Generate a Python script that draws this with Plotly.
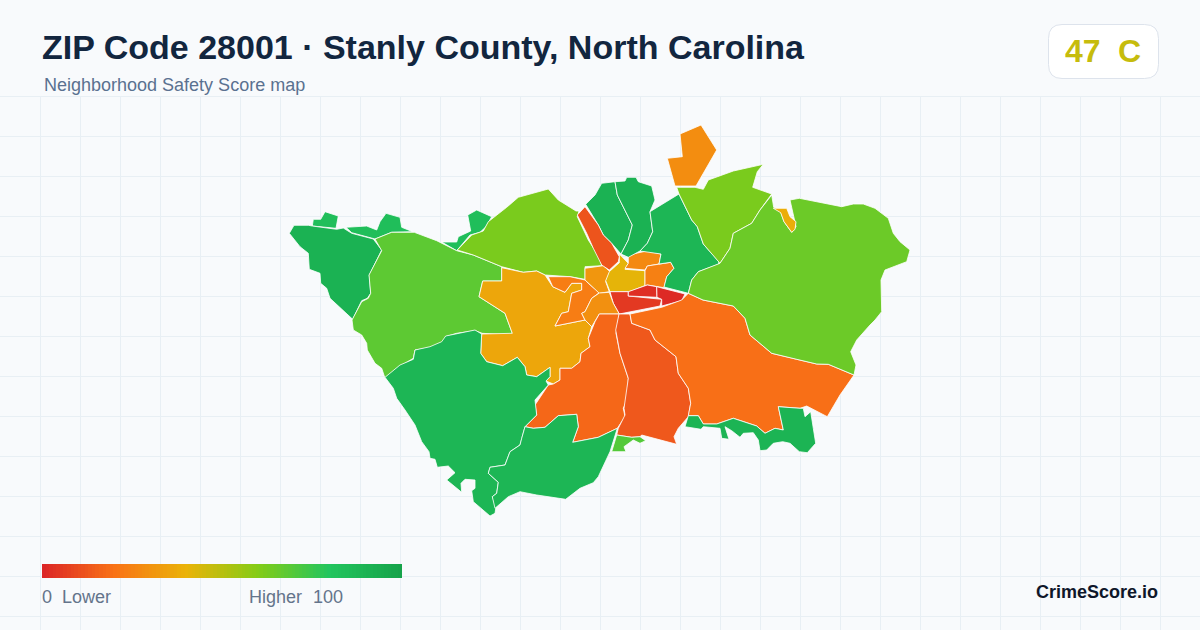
import plotly.graph_objects as go
from plotly.colors import sample_colorscale

TITLE = "ZIP Code 28001 · Stanly County, North Carolina"
SUBTITLE = "Neighborhood Safety Score map"
GRADE_SCORE = 47
GRADE_LETTER = "C"
BRAND = "CrimeScore.io"

score_stops = [0, 0.2, 0.4, 0.6, 0.8, 1]
score_colors = ["#dc2626", "#f97316", "#eab308", "#84cc16", "#22c55e", "#16a34a"]
colorscale = [[s, c] for s, c in zip(score_stops, score_colors)]

# Neighborhood boundaries (map-projected outlines) and scores
north_a = [(312.3,226),(313.3,219.3),(320.7,219.3),(325,211.7),(338.3,216),(336,228.3)]
north_b = [(346,227.3),(366.7,226),(376.7,230),(380,221.7),(386,213.3),(400,217.3),(401.7,227.3),(412.7,231.7),(391.7,232.3),(375,239),(351.7,232.7)]
north_c = [(441.7,242),(456.7,242),(458.3,236.7),(470.7,231),(467.7,215),(476.7,210),(491.7,216.7),(486,226.7),(480,232.3),(470,235),(456.7,250.7),(448.3,246)]
far_west = [(289.3,233.3),(294,225.3),(308.3,225.3),(312.3,226),(336.7,229.3),(343.3,228),(351.7,233.3),(373.3,239),(381.7,250),(369.3,275),(370.7,293.3),(367.3,298.3),(361.7,300.7),(357.3,310.7),(352.7,319.3),(330,298.3),(326.7,288.3),(320.7,283.3),(320,273.3),(309.3,269.3),(308.3,253.3),(300,246.7)]
west = [(375,239),(391.7,232.3),(414.3,232.3),(436.7,240.7),(456.7,250.7),(473.3,255),(501.7,266.7),(501.7,281),(482.7,281),(479,296.7),(505,313.3),(512.3,333.3),(511.7,335),(482.3,333.3),(475,330.7),(456.7,333.3),(445.7,336.7),(445,341.7),(436.7,346.7),(415,350),(413.3,358.3),(396.7,368.3),(385,378.3),(381.7,368.3),(375,363.3),(367.3,350),(366.7,343.3),(361.7,335),(353.3,330),(352,320),(361.7,301.7),(368.3,298.3),(370.7,293.3),(369,275),(381.7,250.7)]
northwest = [(457.3,250),(471.7,235),(483.3,231),(488.3,221.7),(506.7,207.3),(518.3,197.3),(548.3,189),(558.3,200),(576,211),(579,211),(577.3,216.7),(588.3,240),(600,258.3),(601.7,265.7),(585,266.7),(585,279.3),(570,276.7),(545,275),(536.7,271),(523.3,272.3),(501.7,266.7),(473.3,255)]
west_center = [(501.7,281),(501.7,267.7),(523.3,272.3),(536.7,271),(545,275),(552.7,286.7),(565,292.3),(571.7,283.3),(581.7,283.3),(581.7,290),(571.7,293.3),(568.3,311.7),(561.7,313.3),(555,326),(585,320),(591.7,326.7),(588.3,338.3),(590,346.7),(581,353.3),(580,361.7),(571.7,368.3),(560,368.3),(560,380),(553.3,384),(546,381),(550,376.7),(550,367.3),(536.7,376.7),(526.7,375),(525,366.7),(517.3,357.3),(502.7,365.7),(486.7,361.7),(480.7,353.3),(481.7,334),(512.3,333.3),(505,313.3),(479,296.7),(482.7,281)]
inner_west = [(548.3,276.7),(570,276.7),(585,280),(588.3,283.3),(599.3,292.7),(591.7,298.3),(585,311.7),(581.7,313.3),(585,320),(555,326),(561.7,313.3),(568.3,311.7),(571.7,293.3),(581.7,290),(581.7,283.3),(571.7,283.3),(565,292.3),(552.7,286.7)]
central_nw = [(585,268.3),(603.3,265.7),(610,271.7),(605.7,281.7),(609.3,291.7),(599.3,293.3),(585,280)]
central_n = [(619.3,254),(628.3,263.3),(625,269.3),(645,270.7),(645,285.7),(629.3,291.7),(610,291.7),(605.7,280.7),(609.3,271.7),(619.3,262.7)]
central_ne1 = [(628.3,255),(646.7,251),(661,254),(659,264),(647.3,266),(645,270),(625,268.3),(628.3,263.3)]
central_ne2 = [(647.3,266),(670.7,262.3),(674,268.3),(666.7,276.7),(664,287.7),(656.7,286.7),(647.3,285),(645,285.7),(645,270.7)]
core_left = [(610,291.7),(628.3,291.7),(628.3,296),(661.7,299.3),(660,306),(619.3,314),(613.3,303.3)]
core_top = [(628.3,291.7),(647.3,285),(656.7,286.7),(657,297.3),(628.3,296)]
core_right = [(656.7,286.7),(685,294),(681.7,300.7),(661.7,306),(661.7,299.3),(657,297.3)]
central_sw = [(599.3,293),(609.3,292.3),(613.3,303.3),(619.3,314),(599.3,314),(595,321.7),(591.7,326.7),(585,320),(581.7,313.3),(585,311.7),(591.7,298.3)]
south_a = [(599.3,314),(619.3,314),(616,333.3),(620,353.3),(628.3,378.3),(627.7,398.3),(623.3,408.3),(625,416.7),(617.3,428.3),(598.3,437.3),(572.7,442.3),(578.3,426.7),(576.7,414.3),(558.3,415.7),(545,427.3),(533.3,428.3),(525,426.7),(536.7,415),(535,405),(548.3,385),(553.3,384),(560,380),(560,368.3),(571.7,368.3),(580,361.7),(581,353.3),(590,346.7),(588.3,338.3),(595,321.7)]
south_b = [(619,314),(630,314),(631.7,323.3),(650,330),(655,340),(676,356.7),(678.3,373.3),(688.3,388.3),(690.7,403.3),(688.3,416.7),(678.3,428.3),(674,436.7),(676.7,444.3),(641.7,435),(640,436.7),(631.7,437.3),(616.7,435),(618.3,428.3),(625,415),(624,408.3),(628.3,378.3),(620,353.3),(615.7,330)]
southeast = [(630,314),(661.7,307.3),(681.7,300),(688.3,293.3),(703,300),(733.3,306),(745,318.3),(750,335),(771.7,353.3),(796.7,359.3),(816.7,364),(828.3,364.3),(854,375),(840,395),(827.3,416.7),(806.7,406),(800,408.3),(778.3,406.7),(783.3,430),(775,428.3),(765,433.3),(756.7,426),(733.3,418.3),(716.7,424),(703.3,424),(698.3,415.7),(688.3,415.7),(690.7,403.3),(688.3,388.3),(678.3,373.3),(676,356.7),(655,340),(650,330),(631.7,323.3)]
south_strip = [(688.3,415.7),(698.3,415.7),(703.3,424),(716.7,424),(733.3,418.3),(756.7,426),(765,433.3),(775,428.3),(783.3,430),(778.3,406.7),(800,408.3),(803.3,408.3),(805,416.7),(810.7,411.7),(813.3,428.3),(815.7,443.3),(807.3,452.7),(799.3,451.7),(790,443.3),(782.7,441.7),(773.3,443.3),(766.7,450),(760,450.7),(758.3,440),(753.3,432.7),(743.3,433.3),(740,437.3),(731.7,430.7),(725,426.7),(729,439.3),(721.7,438.3),(720,428.3),(703.3,426.7),(701,429.3),(685,426.7)]
south_sliver = [(616.7,435),(631.7,437.3),(640,436.7),(645.7,440.7),(640,443.3),(633.3,440),(624,446.7),(626,451.7),(611.7,451.7)]
southwest = [(385,377.3),(400,365),(413.3,359.3),(415,350),(430,346.7),(441.7,341.7),(445.7,336),(475,330),(481.7,334),(480.7,353.3),(486.7,361.7),(502.7,365.7),(517.3,357.3),(525,366.7),(526.7,375),(536.7,376.7),(550,367.3),(550,376.7),(546,381),(548.3,385),(535,400),(536.7,415),(525,426.7),(521.7,438.3),(520,445),(510,451.7),(505,465),(490,467.3),(488.3,473.3),(498.3,482.3),(496.7,493.3),(492.3,496.7),(496,506.7),(495,513.3),(490,516),(473.3,501.7),(471.7,490.7),(475,488.3),(475,480),(465,479.3),(461,483.3),(461.7,492.3),(446.7,480),(455,472.7),(448.3,466),(437.3,467.3),(435,459.3),(430,458.3),(429,451.7),(421.7,441.7),(415,425),(405,410),(396.7,398.3),(393.3,388.3)]
south_c = [(525,426.7),(533.3,428.3),(545,427.3),(558.3,415.7),(576.7,414.3),(578.3,426.7),(572.7,442.3),(598.3,437.3),(617.3,428.3),(610,451.7),(598.3,476.7),(593.3,482.7),(580,488.3),(565.7,499.3),(536.7,495),(520,491.7),(508.3,496.7),(495,508.3),(492.3,496.7),(496.7,493.3),(498.3,482.3),(488.3,473.3),(490,467.3),(505,465),(510,451.7),(520,445),(521.7,438.3)]
north_d = [(585.7,204.3),(595,195),(601.7,183.3),(615,181.7),(617.3,195),(632.3,225),(628.3,240),(621,254),(611.7,243.3),(603.3,235),(598.3,225)]
north_e = [(615,181.7),(625,181),(626.7,177.3),(636,177.3),(638.3,181.7),(651.7,186),(655,200),(650,211.7),(652.7,231.7),(647.3,243.3),(640,251),(628.3,257.3),(621,254),(628.3,240),(632.3,225),(617.3,195)]
north_f = [(650,211.7),(679,194),(691.7,220),(697.3,226.7),(703.3,244),(719,261.7),(718.3,264.3),(698.3,271.7),(691.7,280),(688.3,293.3),(664,287),(666.7,276.7),(674,268.3),(670.7,262.3),(659,264),(661,254),(640,251),(647.3,243.3),(652.7,231.7)]
north_mid = [(676.7,187.3),(695,187.3),(703.3,189.3),(708.3,180),(733.3,171),(763.3,164.3),(757.3,171.7),(752.7,187.3),(771.7,194),(760,210),(751.7,223.3),(733.3,233.3),(730,248.3),(720,263.3),(703.3,244),(697.3,226.7),(691.7,220),(679,194)]
north_tip = [(675,186),(667.3,158.3),(682.3,156.7),(680,134),(701,125),(716.7,150),(696,186)]
northeast = [(771.7,195),(773.7,207.3),(780,210),(784,221.7),(791.7,232.3),(796,226.7),(790,200),(799.3,198.3),(841.7,206.7),(853.3,204),(863.3,204),(875,208.3),(888.3,218.3),(893.3,233.3),(900,241.7),(910,250),(906.7,261.7),(893,266.7),(885,270),(881,280),(881.7,311.7),(875,320),(870,325),(856.7,340),(850.7,351.7),(856,365),(854,375),(828.3,364.3),(816.7,364),(796.7,359.3),(771.7,353.3),(750,335),(745,318.3),(733.3,306),(703,300),(688.3,293.3),(691.7,280),(698.3,271.7),(718.3,264.3),(720,263.3),(730,248.3),(733.3,233.3),(751.7,223.3),(760,210)]
east_pocket = [(773.3,208.3),(786.7,208.3),(790,216.7),(796,221.7),(795,229.3),(791.7,232.3),(784,221.7),(780.7,212.7)]
north_wedge = [(577.3,215),(585,206.7),(598.3,225),(603.3,235),(611.7,243.3),(619.3,256.7),(618.3,261.7),(609.3,270),(601.7,265),(593.3,248.3),(586.7,233.3)]

regions = [north_a, north_b, north_c, far_west, west, northwest, west_center, inner_west,
           central_nw, central_n, central_ne1, central_ne2, core_left, core_top, core_right,
           central_sw, south_a, south_b, southeast, south_strip, south_sliver, southwest,
           south_c, north_d, north_e, north_f, north_mid, north_tip, northeast, east_pocket,
           north_wedge]
region_scores = [84, 84, 84, 91, 68, 62, 36, 23,
                 31, 41, 27, 24, 5, 2, 1,
                 29, 17, 13, 19, 90, 70, 89,
                 89, 91, 91, 89, 62, 28, 65, 38,
                 12]

legend_scores = list(range(0, 101))

BG = "#f8fafc"
GRID = "#e8eff4"

fig = go.Figure()

for outline, score in zip(regions, region_scores):
    xs = [p[0] for p in outline] + [outline[0][0]]
    ys = [p[1] for p in outline] + [outline[0][1]]
    fig.add_trace(go.Scatter(
        x=xs, y=ys, mode="lines", fill="toself",
        fillcolor=sample_colorscale(colorscale, score / 100)[0],
        line=dict(color="#ffffff", width=0.8),
        hoverinfo="skip", showlegend=False,
    ))

# legend bar spanning x = 42..402 of the page (cell edges)
n_cells = len(legend_scores)
fig.add_trace(go.Heatmap(
    z=[legend_scores],
    x=[42 + i * 360 / n_cells for i in range(n_cells + 1)],
    y=[564, 578],
    zmin=0, zmax=100, colorscale=colorscale, showscale=False,
    hoverinfo="skip",
))

FONT = "Liberation Sans, Arial, sans-serif"

def label(text, x, y, size, color, bold=False, anchor="left"):
    fig.add_annotation(
        x=x, y=y, xref="x", yref="y", text=f"<b>{text}</b>" if bold else text,
        showarrow=False, xanchor=anchor, yanchor="middle", align=anchor,
        font=dict(family=FONT, size=size, color=color), borderpad=0, borderwidth=0,
    )

label(TITLE, 42, 47, 34, "#12263f", bold=True)
label(SUBTITLE, 44, 85, 18, "#5a7190")
label(str(GRADE_SCORE), 1065, 51, 32, "#c6bc0d", bold=True)
label(GRADE_LETTER, 1118, 51, 32, "#c6bc0d", bold=True)
label("0", 42, 597, 18, "#64748b")
label("Lower", 62, 597, 18, "#64748b")
label("Higher", 249, 597, 18, "#64748b")
label("100", 313, 597, 18, "#64748b")
label(BRAND, 1158, 592, 18, "#0f172a", bold=True, anchor="right")

fig.update_layout(
    width=1200, height=630, margin=dict(l=0, r=0, t=0, b=0),
    paper_bgcolor=BG, plot_bgcolor=BG, showlegend=False,
    xaxis=dict(range=[0, 1200], showgrid=True, gridcolor=GRID, gridwidth=1, tick0=0.5, dtick=40,
               zeroline=False, showline=False, showticklabels=False, ticks="", fixedrange=True),
    yaxis=dict(range=[630, 0], showgrid=True, gridcolor=GRID, gridwidth=1, tick0=96.5, dtick=40,
               zeroline=False, showline=False, showticklabels=False, ticks="", fixedrange=True),
    shapes=[
        dict(type="rect", x0=0, x1=1200, y0=0, y1=96, fillcolor=BG, line_width=0, layer="between"),
        dict(type="path",
             path="M 1062,24.5 L 1144.5,24.5 Q 1158.5,24.5 1158.5,38.5 L 1158.5,64.5 Q 1158.5,78.5 1144.5,78.5 "
                  "L 1062,78.5 Q 1048.5,78.5 1048.5,64.5 L 1048.5,38.5 Q 1048.5,24.5 1062,24.5 Z",
             fillcolor="#ffffff", line=dict(color="#dde3ec", width=1), layer="between"),
    ],
)

fig.write_html("out.html", config={"displayModeBar": False},
               post_script="document.body.style.margin='0';document.body.style.background='#f8fafc';")
